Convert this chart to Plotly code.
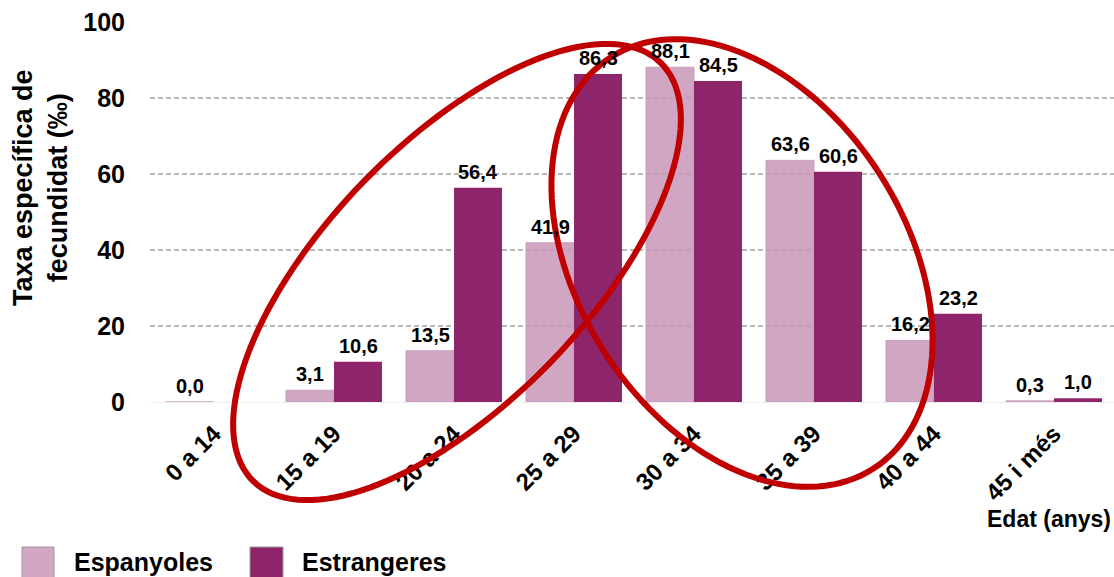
import numpy as np
import plotly.graph_objects as go

# ---------------- data ----------------
categories = ["0 a 14", "15 a 19", "20 a 24", "25 a 29", "30 a 34", "35 a 39", "40 a 44", "45 i més"]
espanyoles = [0.0, 3.1, 13.5, 41.9, 88.1, 63.6, 16.2, 0.3]
estrangeres = [None, 10.6, 56.4, 86.3, 84.5, 60.6, 23.2, 1.0]
y_ticks = [0, 20, 40, 60, 80, 100]
series_names = ["Espanyoles", "Estrangeres"]
y_title = "Taxa específica de<br>fecundidat (‰)"
x_title = "Edat (anys)"

# ---------------- layout geometry (pixels) ----------------
W, H = 1114, 577
L, R, T, B = 150, 0, 22, 175
PW = W - L - R
PH = H - T - B
BARGAP = 0.2


def px(x):
    return (x - L) / PW


def py(y):
    return (H - B - y) / PH


def ellipse_path(cx, cy, a, b, deg, n=144):
    th = np.radians(deg)
    t = np.linspace(0, 2 * np.pi, n, endpoint=False)
    xs = cx + a * np.cos(th) * np.cos(t) - b * np.sin(th) * np.sin(t)
    ys = cy + a * np.sin(th) * np.cos(t) + b * np.cos(th) * np.sin(t)
    pts = [f"{px(x):.5f},{py(y):.5f}" for x, y in zip(xs, ys)]
    return "M" + " L".join(pts) + " Z"


LIGHT = "rgba(200,150,184,0.85)"
DARK = "#8E2469"
FONT = "Liberation Sans, Arial, sans-serif"

fig = go.Figure()
fig.add_trace(go.Bar(
    x=categories, y=espanyoles, name=series_names[0],
    marker=dict(color=LIGHT, line=dict(color=LIGHT, width=1)),
    cliponaxis=False, hoverinfo="x+y",
))
fig.add_trace(go.Bar(
    x=categories, y=estrangeres, name=series_names[1],
    marker=dict(color=DARK, line=dict(width=0)),
    cliponaxis=False, hoverinfo="x+y",
))

shapes = [
    dict(type="path", xref="paper", yref="paper",
         path=ellipse_path(457, 272, 292, 130, -45.8),
         line=dict(color="#C00000", width=6), layer="above"),
    dict(type="path", xref="paper", yref="paper",
         path=ellipse_path(742, 263, 244, 164, 57.5),
         line=dict(color="#C00000", width=6), layer="above"),
    # legend swatches
    dict(type="rect", xref="paper", yref="paper",
         x0=px(22), x1=px(54), y0=py(547), y1=py(580),
         fillcolor="#D3A7C4", line=dict(color="#999999", width=1)),
    dict(type="rect", xref="paper", yref="paper",
         x0=px(250), x1=px(283), y0=py(547), y1=py(580),
         fillcolor=DARK, line=dict(color="#999999", width=1)),
]

annotations = [
    dict(text=y_title, xref="paper", yref="paper", x=px(40), y=py(188),
         xanchor="center", yanchor="middle", textangle=-90, showarrow=False,
         font=dict(family=FONT, size=27, color="black", weight=700)),
    dict(text=x_title, xref="paper", yref="paper", x=px(1113), y=py(519),
         xanchor="right", yanchor="middle", showarrow=False,
         font=dict(family=FONT, size=23, color="black", weight=700)),
    dict(text=series_names[0], xref="paper", yref="paper", x=px(72), y=py(562),
         xanchor="left", yanchor="middle", showarrow=False,
         font=dict(family=FONT, size=25, color="black", weight=700)),
    dict(text=series_names[1], xref="paper", yref="paper", x=px(300), y=py(562),
         xanchor="left", yanchor="middle", showarrow=False,
         font=dict(family=FONT, size=25, color="black", weight=700)),
]

# value labels above bars (positioned through the axes)
half = (1 - BARGAP) / 4
for offset, values in ((-half, espanyoles), (half, estrangeres)):
    for j, v in enumerate(values):
        if v is None:
            continue
        annotations.append(dict(
            text=f"{v:.1f}".replace(".", ","), xref="x", yref="y",
            x=j + offset, y=v, xanchor="center", yanchor="bottom",
            yshift=3, showarrow=False,
            font=dict(family=FONT, size=20, color="black", weight=700)))

fig.update_layout(
    width=W, height=H,
    margin=dict(l=L, r=R, t=T, b=B, pad=0),
    paper_bgcolor="white", plot_bgcolor="white",
    barmode="group", bargap=BARGAP, bargroupgap=0,
    separators=",.",
    showlegend=False,
    shapes=shapes, annotations=annotations,
    font=dict(family=FONT, color="black"),
    xaxis=dict(
        range=[-0.5333, 7.5], tickangle=-45, showgrid=False, showline=False,
        zeroline=False, ticks="", ticklabelstandoff=12,
        tickfont=dict(family=FONT, size=24, color="black", weight=700),
    ),
    yaxis=dict(
        range=[0, 100], tickvals=y_ticks, showgrid=True,
        gridcolor="#B8B8B8", griddash="5px,3px", gridwidth=1.5,
        zeroline=True, zerolinecolor="#EEEEEE", zerolinewidth=1,
        showline=False, ticks="", ticklabelstandoff=24,
        tickfont=dict(family=FONT, size=25, color="black", weight=700),
    ),
)

fig.write_html(
    "out.html",
    config={"displayModeBar": False},
    post_script="document.body.style.margin='0';document.body.style.padding='0';"
                "document.documentElement.style.overflow='hidden';",
)
